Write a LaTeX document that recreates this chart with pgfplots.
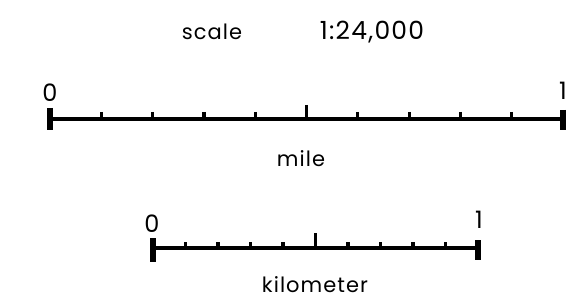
\documentclass[border=0pt]{standalone}
\usepackage{fontspec}
\setmainfont{Poppins}[LetterSpace=5]
\usepackage{pgfplots}
\pgfplotsset{compat=1.18}
\begin{document}
\begin{tikzpicture}
\begin{axis}[
  width=575pt, height=299pt, scale only axis,
  xmin=0, xmax=575, ymin=0, ymax=299, y dir=reverse,
  hide axis, clip=false, unbounded coords=jump,
  every axis plot/.append style={black, line cap=butt}
]
\fill[white] (rel axis cs:0,0) rectangle (rel axis cs:1,1);
% mile bar
\addplot[line width=3.6pt] coordinates {(50,119) (563,119)};
\addplot[line width=5.5pt] coordinates {(50,108) (50,130) (nan,nan) (563,110) (563,130)};
\addplot[line width=3.2pt] coordinates {
 (101.3,112) (101.3,119) (nan,nan)
 (152.6,112) (152.6,119) (nan,nan)
 (203.9,112) (203.9,119) (nan,nan)
 (255.2,112) (255.2,119) (nan,nan)
 (306.5,105) (306.5,119) (nan,nan)
 (357.8,112) (357.8,119) (nan,nan)
 (409.1,112) (409.1,119) (nan,nan)
 (460.4,112) (460.4,119) (nan,nan)
 (511.7,112) (511.7,119)};
% kilometer bar
\addplot[line width=3.6pt] coordinates {(153,248) (478,248)};
\addplot[line width=5.5pt] coordinates {(153,238) (153,262) (nan,nan) (478,240) (478,260)};
\addplot[line width=3.2pt] coordinates {
 (185.5,242) (185.5,248) (nan,nan)
 (218,242) (218,248) (nan,nan)
 (250.5,242) (250.5,248) (nan,nan)
 (283,242) (283,248) (nan,nan)
 (315.5,233) (315.5,248) (nan,nan)
 (348,242) (348,248) (nan,nan)
 (380.5,242) (380.5,248) (nan,nan)
 (413,242) (413,248) (nan,nan)
 (445.5,242) (445.5,248)};
% texts
\node[anchor=base, inner sep=0pt, font=\fontsize{21}{23}\selectfont] at (axis cs:212,40) {scale};
\node[anchor=base, inner sep=0pt, font=\fontsize{25}{27}\selectfont] at (axis cs:372,40) {1:24,000};
\node[anchor=base, inner sep=0pt, font=\fontsize{24}{26}\selectfont] at (axis cs:50,102) {0};
\node[anchor=base, inner sep=0pt, font=\fontsize{24}{26}\selectfont] at (axis cs:563,100) {1};
\node[anchor=base, inner sep=0pt, font=\fontsize{21}{23}\selectfont] at (axis cs:301,167) {mile};
\node[anchor=base, inner sep=0pt, font=\fontsize{24}{26}\selectfont] at (axis cs:152,232) {0};
\node[anchor=base, inner sep=0pt, font=\fontsize{24}{26}\selectfont] at (axis cs:479,228) {1};
\node[anchor=base, inner sep=0pt, font=\fontsize{21}{23}\selectfont] at (axis cs:315,292) {kilometer};
\end{axis}
\end{tikzpicture}
\end{document}
